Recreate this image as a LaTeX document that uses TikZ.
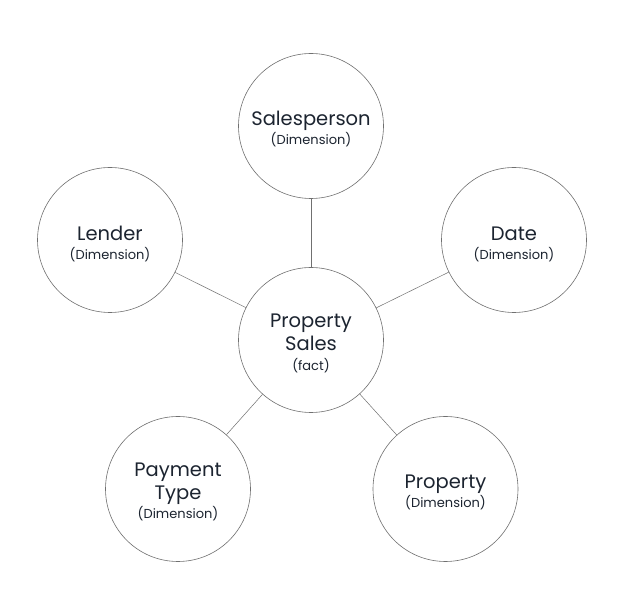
\documentclass[tikz,border=0pt]{standalone}
\usepackage{fontspec}
\setmainfont{Poppins}
\definecolor{txt}{HTML}{1C2430}
\definecolor{ln}{HTML}{707070}
\newcommand{\smt}[1]{{\fontsize{13}{16}\selectfont #1}}
\begin{document}
\begin{tikzpicture}[x=1pt,y=1pt,
  ent/.style={circle,draw=ln,line width=0.6pt,minimum size=145pt,inner sep=0pt},
  lbl/.style={align=center,text=txt,inner sep=0pt,font=\fontsize{19.5}{23}\selectfont},
  edge/.style={draw=ln,line width=0.5pt}]
\useasboundingbox[fill=white] (0,0) rectangle (625,600);
\node[ent] (c) at (311,260) {};
\node[ent] (s) at (311,474) {};
\node[ent] (l) at (110,360) {};
\node[ent] (d) at (514,360) {};
\node[ent] (p) at (178,111) {};
\node[ent] (q) at (445.5,111) {};
\node[lbl] (ct) at ([yshift=-3pt]c.center) {Property\\Sales\\[-3pt]\smt{(fact)}};
\node[lbl] (st) at ([yshift=-3pt]s.center) {Salesperson\\[-4pt]\smt{(Dimension)}};
\node[lbl] (lt) at ([yshift=-4pt]l.center) {Lender\\[-4pt]\smt{(Dimension)}};
\node[lbl] (dt) at ([yshift=-4pt]d.center) {Date\\[-4pt]\smt{(Dimension)}};
\node[lbl] (pt) at ([yshift=-3pt]p.center) {Payment\\Type\\[-4pt]\smt{(Dimension)}};
\node[lbl] (qt) at ([yshift=-3pt]q.center) {Property\\[-4pt]\smt{(Dimension)}};
\draw[edge] (c) -- (s);
\draw[edge] (c) -- (l);
\draw[edge] (c) -- (d);
\draw[edge] (c) -- (p);
\draw[edge] (c) -- (q);
\end{tikzpicture}
\end{document}
